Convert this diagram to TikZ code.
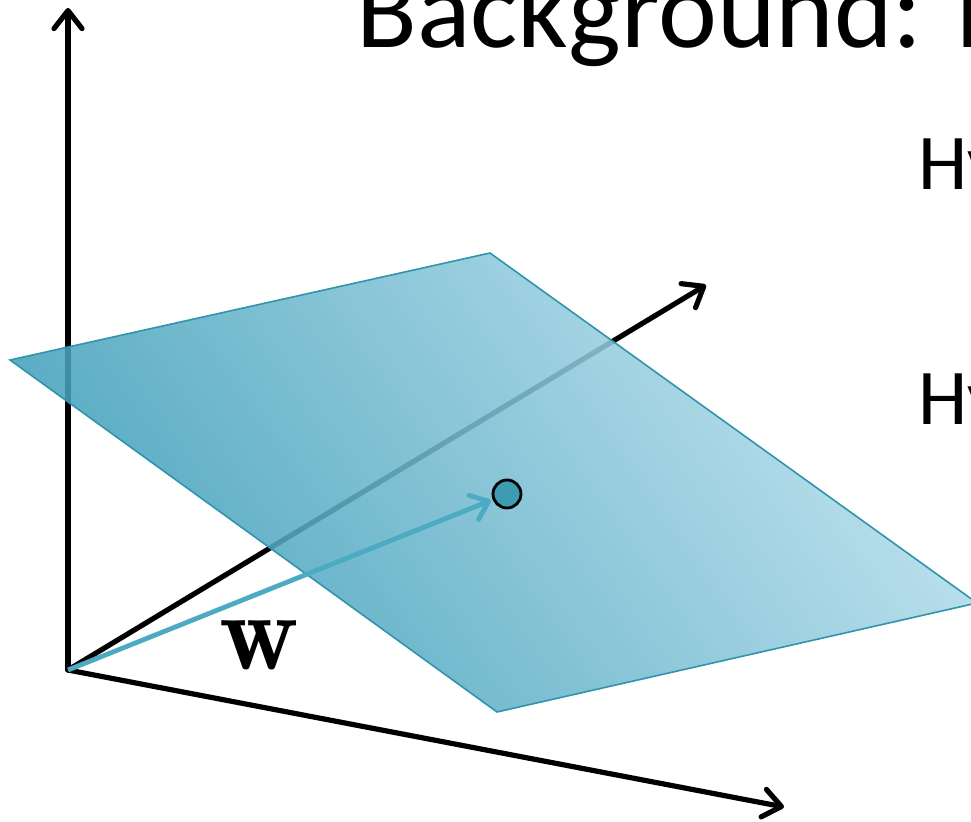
\documentclass[tikz,border=0pt]{standalone}
\usepackage{fontspec}
\setsansfont{Carlito}
\usetikzlibrary{arrows.meta}
\definecolor{planedark}{RGB}{58, 156, 183}
\definecolor{planelight}{RGB}{182, 222, 236}
\definecolor{planeedge}{RGB}{48, 148, 172}
\definecolor{wvec}{RGB}{76, 170, 195}
\definecolor{ptfill}{RGB}{62, 156, 178}
\tikzset{
    axisline/.style={line width=2.6pt, line cap=round, -{Straight Barb[round, length=9pt, width=14pt]}},
    plane/.style={draw=planeedge, line width=0.8pt, bottom color=planedark, top color=planelight, shading angle=-55, fill opacity=0.87},
    wline/.style={draw=wvec, line width=2.4pt, -{Straight Barb[round, length=8pt, width=13pt]}, shorten >=1pt},
    point/.style={circle, draw=black, line width=1.4pt, fill=ptfill, minimum size=14pt, inner sep=0pt},
    slidetitle/.style={font=\sffamily\fontsize{55.8}{60}\selectfont, anchor=base west, inner sep=0pt},
    slidetext/.style={font=\sffamily\fontsize{39.5}{44}\selectfont, anchor=base west, inner sep=0pt},
    wlabel/.style={font=\fontsize{55}{60}\selectfont, inner sep=0pt}
}
\begin{document}
\begin{tikzpicture}[x=0.5pt, y=-0.5pt]
    \path[use as bounding box] (0,0) rectangle (971,822);
    \clip (0,0) rectangle (971,822);

    % axes
    \coordinate (O) at (68,670);
    \coordinate (ztip) at (68,8);
    \coordinate (ytip) at (706,285);
    \coordinate (xtip) at (784,807);
    \draw[axisline] (O) -- (ztip);
    \draw[axisline] (O) -- (ytip);
    \draw[axisline] (O) -- (xtip);

    % hyperplane
    \coordinate (pA) at (10,360);
    \coordinate (pB) at (490,253);
    \coordinate (pC) at (977,603);
    \coordinate (pD) at (497,712);
    \draw[plane] (pA) -- (pB) -- (pC) -- (pD) -- cycle;

    \node (pt) [point] at (507,494) {};
    \draw[wline] (O) -- (pt);
    \node (w) [wlabel] at (259,645) {$\mathbf{w}$};

    \node (title) [slidetitle] at (356,48) {Background: F};
    \node (hyone) [slidetext] at (918,190) {Hy};
    \node (hytwo) [slidetext] at (918,425) {Hy};
\end{tikzpicture}
\end{document}
